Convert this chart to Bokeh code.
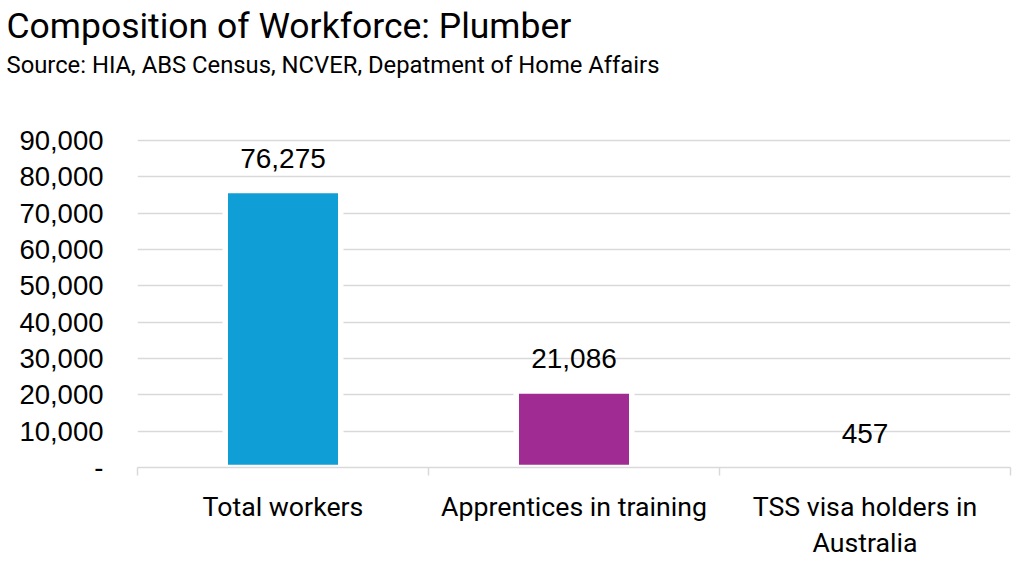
from bokeh.plotting import figure
from bokeh.models import Range1d, FixedTicker, NumeralTickFormatter, Title, ColumnDataSource
from bokeh.core.properties import value
from bokeh.embed import file_html
from bokeh.resources import INLINE

categories = ["Total workers", "Apprentices in training", "TSS visa holders in\nAustralia"]
values = [76275, 21086, 457]
colors = ["#0F9ED5", "#A02B93", "#4EA72E"]
y_ticks = [0, 10000, 20000, 30000, 40000, 50000, 60000, 70000, 80000, 90000]
title_text = "Composition of Workforce: Plumber"
subtitle_text = "Source: HIA, ABS Census, NCVER, Depatment of Home Affairs"

NARROW = "Roboto"
REG = "Liberation Sans"

x_pos = [i + 0.5 for i in range(len(categories))]
bounds = [float(i) for i in range(len(categories) + 1)]
src = ColumnDataSource(dict(x=x_pos, top=values, color=colors,
                            label=[f"{v:,}" for v in values]))

Y_END = 107120

p = figure(width=1024, height=576, x_range=Range1d(0, len(categories)),
           y_range=Range1d(0, Y_END), output_backend="svg", toolbar_location=None,
           min_border_left=137, min_border_right=14, min_border_bottom=109,
           min_border_top=0, title=None)
p.outline_line_color = None
p.background_fill_color = "white"
p.border_fill_color = "white"

sub = Title(text=subtitle_text, align="left", text_font=NARROW, text_font_size="23.8px",
            text_font_style="normal", text_color="black", offset=-131, standoff=0)
p.add_layout(sub, "above")
main = Title(text=title_text, align="left", text_font=NARROW, text_font_size="35.5px",
             text_font_style="normal", text_color="black", offset=-131, standoff=4)
p.add_layout(main, "above")

p.vbar(x="x", top="top", bottom=0, width=0.397, fill_color="color",
       line_color="white", line_width=5.5, source=src)
p.text(x="x", y="top", text="label", source=src, text_align="center",
       text_baseline="alphabetic", y_offset=-32, text_font=value(REG),
       text_font_size="28px", text_color="black")

# y axis
ya = p.yaxis[0]
ya.ticker = FixedTicker(ticks=y_ticks)
ya.formatter = NumeralTickFormatter(format="0,0")
ya.major_label_overrides = {0: "-"}
ya.axis_line_color = None
ya.major_tick_line_color = None
ya.minor_tick_line_color = None
ya.major_tick_out = 0
ya.minor_tick_out = 0
ya.major_label_standoff = 34
ya.major_label_text_font = REG
ya.major_label_text_font_size = "27.5px"
ya.major_label_text_color = "black"

# x axis
xa = p.xaxis[0]
xa.ticker = FixedTicker(ticks=x_pos, minor_ticks=bounds)
xa.major_label_overrides = {xp: c for xp, c in zip(x_pos, categories)}
xa.axis_line_color = "#D9D9D9"
xa.axis_line_width = 1.5
xa.major_tick_line_color = None
xa.major_tick_out = 0
xa.major_tick_in = 0
xa.minor_tick_line_color = "#D9D9D9"
xa.minor_tick_line_width = 1.5
xa.minor_tick_out = 8
xa.minor_tick_in = 0
xa.major_label_standoff = 15
xa.major_label_text_font = NARROW
xa.major_label_text_font_size = "26.7px"
xa.major_label_text_color = "black"
xa.major_label_text_line_height = 1.15

p.xgrid.visible = False
p.ygrid.ticker = FixedTicker(ticks=y_ticks)
p.ygrid.grid_line_color = "#D9D9D9"
p.ygrid.grid_line_width = 1.5

open("out.html", "w").write(file_html(p, INLINE))
